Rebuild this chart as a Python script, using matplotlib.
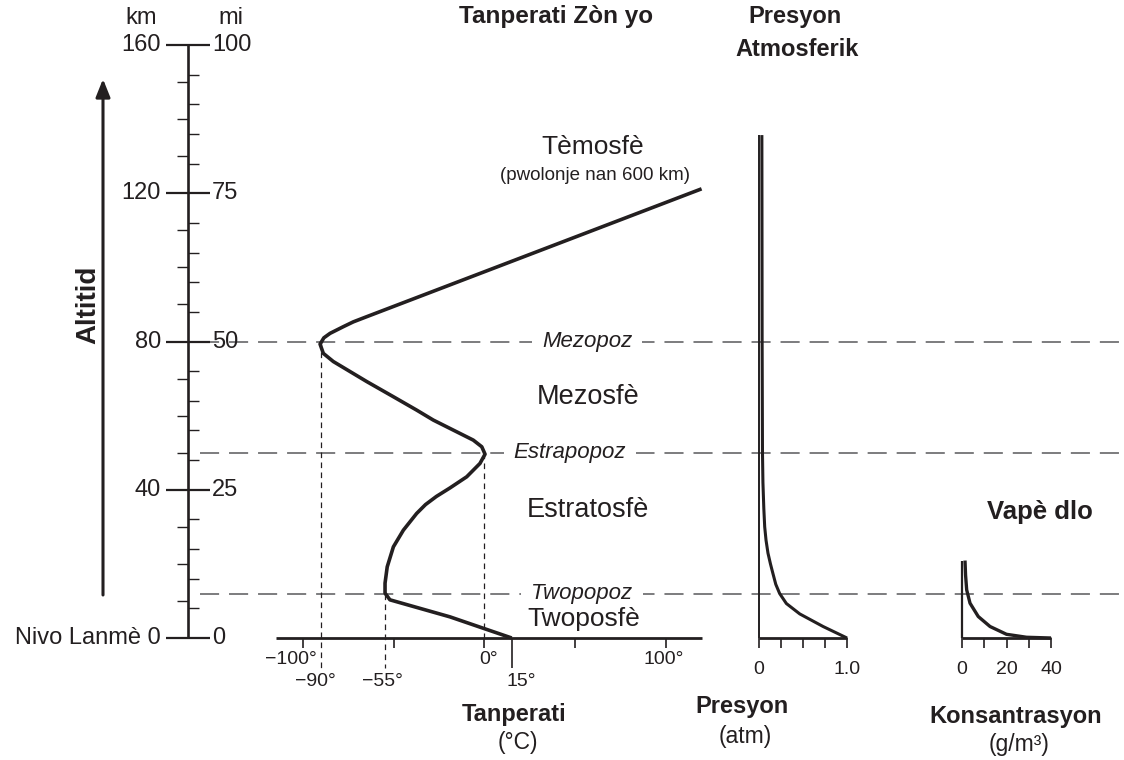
import matplotlib
matplotlib.use("Agg")
import matplotlib.pyplot as plt

plt.rcParams['font.family'] = ['Liberation Sans', 'DejaVu Sans']

# ---------------- data ----------------
alt_major_km = [0, 40, 80, 120, 160]
alt_major_mi = [0, 25, 50, 75, 100]
km_minor = [10, 20, 30, 50, 60, 70, 90, 100, 110, 130, 140, 150]
mi_minor = [5, 10, 15, 20, 30, 35, 40, 45, 55, 60, 65, 70, 80, 85, 90, 95]
KM_PER_MI = 1.6

pause_names = ['Twopopoz', 'Estrapopoz', 'Mezopoz']
pause_alt_km = [12, 50, 80]

temp_alt_km = [0, 5.7, 10.3, 12.1, 14.8, 19.2, 24.6, 29.1, 33.6, 36.0, 38.2, 40.5, 43.5,
               47.1, 49.6, 51.6, 53.4, 56.1, 58.8, 61.5, 65.1, 69.2, 71.9, 74.6,
               76.8, 79.3, 81.0, 82.2, 84.0, 85.3, 86.7, 121.2]
temp_c = [15, -19, -52.1, -54.8, -54.8, -53.6, -50.2, -44.7, -37.4, -32.5, -26.5, -19.0, -9.8,
          -2.5, 0.3, -1.5, -6.2, -17.2, -28.2, -37.4, -50.2, -64.9, -74.1, -83.3,
          -88.8, -90.6, -88.5, -85.1, -77.8, -72.3, -64.9, 119.6]
temp_ticks = [-100, -50, 0, 50, 100]
temp_labels_row1 = {-100: '\u2212100°', 0: '0°', 100: '100°'}
temp_labels_row2 = {-90: '\u221290°', -55: '\u221255°', 15: '15°'}

pres_alt_km = [0, 3.1, 6.5, 9.3, 12, 14.5, 17.5, 20, 22.9, 26.4, 30, 35, 42, 50, 80, 135.7]
pres_atm = [1.0, 0.73, 0.466, 0.315, 0.239, 0.195, 0.162, 0.135, 0.107, 0.085, 0.07,
            0.06, 0.05, 0.045, 0.041, 0.038]
pres_ticks = [0, 0.25, 0.5, 0.75, 1.0]
pres_labels = {0: '0', 1.0: '1.0'}

vap_alt_km = [0, 0.2, 1.0, 3.1, 5.8, 9.4, 13, 17, 20.9]
vap_conc = [40, 29, 20, 12.6, 7.3, 3.6, 2.1, 1.6, 1.35]
vap_ticks = [0, 10, 20, 30, 40]
vap_labels = {0: '0', 20: '20', 40: '40'}

# ---------------- layout ----------------
W, H = 1124, 760
Y0 = 638.0          # pixel row of 0 km
PXKM = 3.706        # pixels per km
INK = '#231f20'
DASH = '#58595b'

def z_of(ypx):
    return (Y0 - ypx) / PXKM

fig = plt.figure(figsize=(W / 100, H / 100), dpi=100)
fig.patch.set_facecolor('white')

def new_ax(x0px_val, px_per_unit):
    ax = fig.add_axes([0, 0, 1, 1])
    ax.set_xlim((0 - x0px_val) / px_per_unit, (W - x0px_val) / px_per_unit)
    ax.set_ylim(z_of(H), z_of(0))
    ax.axis('off')
    ax.patch.set_alpha(0)
    return ax

ax_lay = new_ax(0, 1.0)          # x in pixels, y in km
ax_t = new_ax(484.5, 1.815)      # x in °C
ax_p = new_ax(758.5, 88.5)       # x in atm
ax_v = new_ax(962, 2.225)        # x in g/m3

def ftext(x, y, s, size, **kw):
    kw.setdefault('color', INK)
    kw.setdefault('ha', 'center')
    kw.setdefault('va', 'center')
    fig.text(x / W, 1 - y / H, s, fontsize=size, **kw)

# ---------------- altitude ruler ----------------
RX = 188
ax_lay.plot([RX, RX], [0, 160], color=INK, lw=1.9, solid_capstyle='butt')
for km, mi in zip(alt_major_km, alt_major_mi):
    ax_lay.plot([166, 210], [km, km], color=INK, lw=1.6, solid_capstyle='butt')
    lab = 'Nivo Lanmè 0' if km == 0 else str(km)
    ax_lay.annotate(lab, (161, km), ha='right', va='center', fontsize=17, color=INK)
    ax_lay.annotate(str(mi), (212, km), ha='left', va='center', fontsize=17, color=INK)
for km in km_minor:
    ax_lay.plot([177, RX], [km, km], color=INK, lw=1.0, solid_capstyle='butt')
for mi in mi_minor:
    z = mi * KM_PER_MI
    ax_lay.plot([RX, 199], [z, z], color=INK, lw=1.0, solid_capstyle='butt')
ftext(141, 18, 'km', 17)
ftext(231, 18, 'mi', 17)

# arrow + Altitid
ax_lay.annotate('', xy=(103, z_of(79)), xytext=(103, z_of(595)),
                arrowprops=dict(arrowstyle='-|>,head_length=0.4,head_width=0.16',
                                lw=2.2, color=INK, mutation_scale=27,
                                shrinkA=0, shrinkB=0))
ftext(88, 305, 'Altitid', 20, rotation=90, fontweight='bold')

# ---------------- pause dashed lines ----------------
for z in pause_alt_km:
    ax_lay.plot([200, W], [z, z], color=DASH, lw=1.1, dashes=(12.5, 6.5), zorder=1)
pause_x = [582, 570, 587]
for name, z, x in zip(pause_names, pause_alt_km, pause_x):
    ax_lay.text(x, z, name, ha='center', va='center', fontsize=16, style='italic',
                color=INK, zorder=3,
                bbox=dict(boxstyle='square,pad=0.45', fc='white', ec='none'))

# ---------------- temperature panel ----------------
tick_len = 10 / PXKM
ax_t.plot([-115, 120.1], [0, 0], color=INK, lw=2.0, solid_capstyle='butt', zorder=4)
for t in temp_ticks:
    ax_t.plot([t, t], [0, -tick_len], color=INK, lw=1.2, solid_capstyle='butt')
ax_t.plot([15, 15], [0, -30 / PXKM], color=INK, lw=1.2, solid_capstyle='butt')
dot = dict(color=INK, lw=0.9, dashes=(4.5, 3.5), zorder=2)
ax_t.plot([-90, -90], [80, -30 / PXKM], **dot)
ax_t.plot([-55, -55], [12, -30 / PXKM], **dot)
ax_t.plot([0, 0], [50, 0], **dot)
ax_t.plot(temp_c, temp_alt_km, color=INK, lw=2.6, solid_joinstyle='round',
          solid_capstyle='butt', zorder=5)
row1_dx = {-100: -12, 0: 4, 100: -2}
for t, s in temp_labels_row1.items():
    ax_t.annotate(s, (t, 0), xytext=(row1_dx[t], -22), textcoords='offset pixels',
                  ha='center', va='center', fontsize=14, color=INK)
row2_dx = {-90: -6, -55: -2.5, 15: 10}
for t, s in temp_labels_row2.items():
    ax_t.annotate(s, (t, 0), xytext=(row2_dx[t], -44), textcoords='offset pixels',
                  ha='center', va='center', fontsize=14, color=INK)

ftext(556, 17, 'Tanperati Zòn yo', 17.5, fontweight='bold')
ftext(593, 147, 'Tèmosfè', 19)
ftext(595, 176, '(pwolonje nan 600 km)', 13.5)
ftext(588, 397, 'Mezosfè', 19.5)
ftext(588, 510, 'Estratosfè', 19.5)
ftext(584, 619, 'Twoposfè', 19)
ftext(514, 714, 'Tanperati', 17, fontweight='bold')
ftext(518, 743, '(°C)', 16.5)

# ---------------- pressure panel ----------------
ax_p.plot([0, 1.0], [0, 0], color=INK, lw=2.0, solid_capstyle='butt', zorder=4)
for p in pres_ticks:
    ax_p.plot([p, p], [0, -tick_len], color=INK, lw=1.2, solid_capstyle='butt')
ax_p.plot([0, 0], [0, pres_alt_km[-1]], color=INK, lw=1.4, solid_capstyle='butt', zorder=4)
ax_p.plot(pres_atm, pres_alt_km, color=INK, lw=2.2, solid_joinstyle='round',
          solid_capstyle='butt', zorder=5)
for p, s in pres_labels.items():
    ax_p.annotate(s, (p, 0), xytext=(0, -32), textcoords='offset pixels',
                  ha='center', va='center', fontsize=14, color=INK)
ftext(795, 17, 'Presyon', 17, fontweight='bold')
ftext(797, 50, 'Atmosferik', 17, fontweight='bold')
ftext(742, 706, 'Presyon', 17, fontweight='bold')
ftext(745, 736, '(atm)', 16.5)

# ---------------- water vapour panel ----------------
ax_v.plot([0, 40], [0, 0], color=INK, lw=2.0, solid_capstyle='butt', zorder=4)
for c in vap_ticks:
    ax_v.plot([c, c], [0, -tick_len], color=INK, lw=1.2, solid_capstyle='butt')
ax_v.plot([0, 0], [0, vap_alt_km[-1]], color=INK, lw=1.6, solid_capstyle='butt', zorder=4)
ax_v.plot(vap_conc, vap_alt_km, color=INK, lw=2.4, solid_joinstyle='round',
          solid_capstyle='butt', zorder=5)
for c, s in vap_labels.items():
    ax_v.annotate(s, (c, 0), xytext=(0, -32), textcoords='offset pixels',
                  ha='center', va='center', fontsize=14, color=INK)
ftext(1040, 512, 'Vapè dlo', 18.5, fontweight='bold')
ftext(1016, 716, 'Konsantrasyon', 17, fontweight='bold')
ftext(1019, 745, '(g/m³)', 16.5)

fig.savefig('out.png', dpi=100, facecolor='white')
